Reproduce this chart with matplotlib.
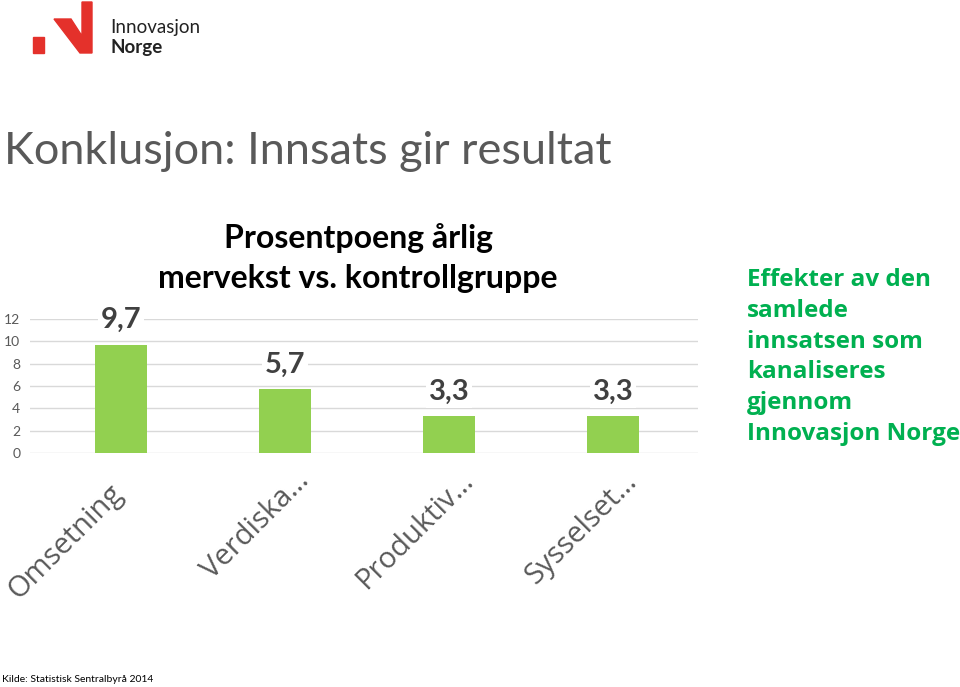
import matplotlib.pyplot as plt
from matplotlib.patches import Polygon, Rectangle
from matplotlib.transforms import ScaledTranslation

# chart data
categories = ['Omsetning', 'Verdiska…', 'Produktiv…', 'Sysselset…']
values = [9.7, 5.7, 3.3, 3.3]
value_labels = ['9,7', '5,7', '3,3', '3,3']
y_ticks = [0, 2, 4, 6, 8, 10, 12]

plt.rcParams['font.family'] = ['Lato', 'DejaVu Sans']

W, H = 960, 687
fig = plt.figure(figsize=(W / 100, H / 100), dpi=100)
fig.patch.set_facecolor('white')

# logo
red = '#E4312B'
fig.patches.append(Rectangle((33 / W, 1 - 53 / H), 11 / W, 16 / H, transform=fig.transFigure, color=red))
logo = [(54, 19), (71, 19), (82, 36), (82, 2), (92, 2), (92, 53), (80, 53)]
fig.patches.append(Polygon([(x / W, 1 - y / H) for x, y in logo], closed=True,
                           transform=fig.transFigure, color=red))
fig.text(110 / W, 1 - 27 / H, 'Innovasjon', fontsize=13.5, color='#222222', va='center')
fig.text(110 / W, 1 - 47 / H, 'Norge', fontsize=13.5, fontweight='bold', color='#222222', va='center')

# headline
fig.text(4 / W, 1 - 152 / H, 'Konklusjon: Innsats gir resultat', fontsize=32.5, color='#595959', va='center')

# bar chart
ax = fig.add_axes([30 / W, 1 - 453 / H, 668 / W, 134 / H])
x = range(len(categories))
ax.bar(x, values, width=0.317, color='#92D050', zorder=3)
ax.set_ylim(0, 12)
ax.set_xlim(-91 / 164, 3 + 85 / 164)
ax.set_yticks(y_ticks)
ax.set_yticklabels([str(t) for t in y_ticks], fontsize=10, color='#595959')
ax.yaxis.grid(True, color='#D9D9D9', linewidth=1, zorder=0)
for s in ax.spines.values():
    s.set_visible(False)
ax.tick_params(axis='y', length=0, pad=7)
ax.tick_params(axis='x', length=0, pad=21)
ax.set_xticks(list(x))
ax.set_xticklabels(categories, rotation=45, fontsize=21, color='#595959', family=['Open Sans', 'DejaVu Sans'],
                   ha='right', va='baseline', rotation_mode='anchor')
for i, lbl in enumerate(ax.get_xticklabels()):
    # the untruncated first label sits a little further down-left
    dx, dy = (0.03, -0.12) if i == 0 else (0.25, 0)
    lbl.set_transform(lbl.get_transform() + ScaledTranslation(dx, dy, fig.dpi_scale_trans))
for i, v in enumerate(values):
    ax.text(i, v + 2.2, value_labels[i], ha='center', va='center', fontsize=21, fontweight='bold',
            color='#404040', zorder=4, bbox=dict(facecolor='white', edgecolor='none', pad=2))

fig.text(358 / W, 1 - 258 / H, 'Prosentpoeng årlig\nmervekst vs. kontrollgruppe', ha='center', va='center',
         fontsize=23, fontweight='bold', color='black', linespacing=1.45,
         bbox=dict(facecolor='white', edgecolor='none', pad=1))

fig.text(747 / W, 1 - 357 / H, 'Effekter av den\nsamlede\ninnsatsen som\nkanaliseres\ngjennom\nInnovasjon Norge',
         fontsize=17.5, fontweight='bold', color='#00B050', va='center', linespacing=1.37,
         family=['Open Sans', 'DejaVu Sans'])

fig.text(2 / W, 1 - 680 / H, 'Kilde: Statistisk Sentralbyrå 2014', fontsize=7.5, color='black', va='center')

fig.savefig('out.png', dpi=100)
